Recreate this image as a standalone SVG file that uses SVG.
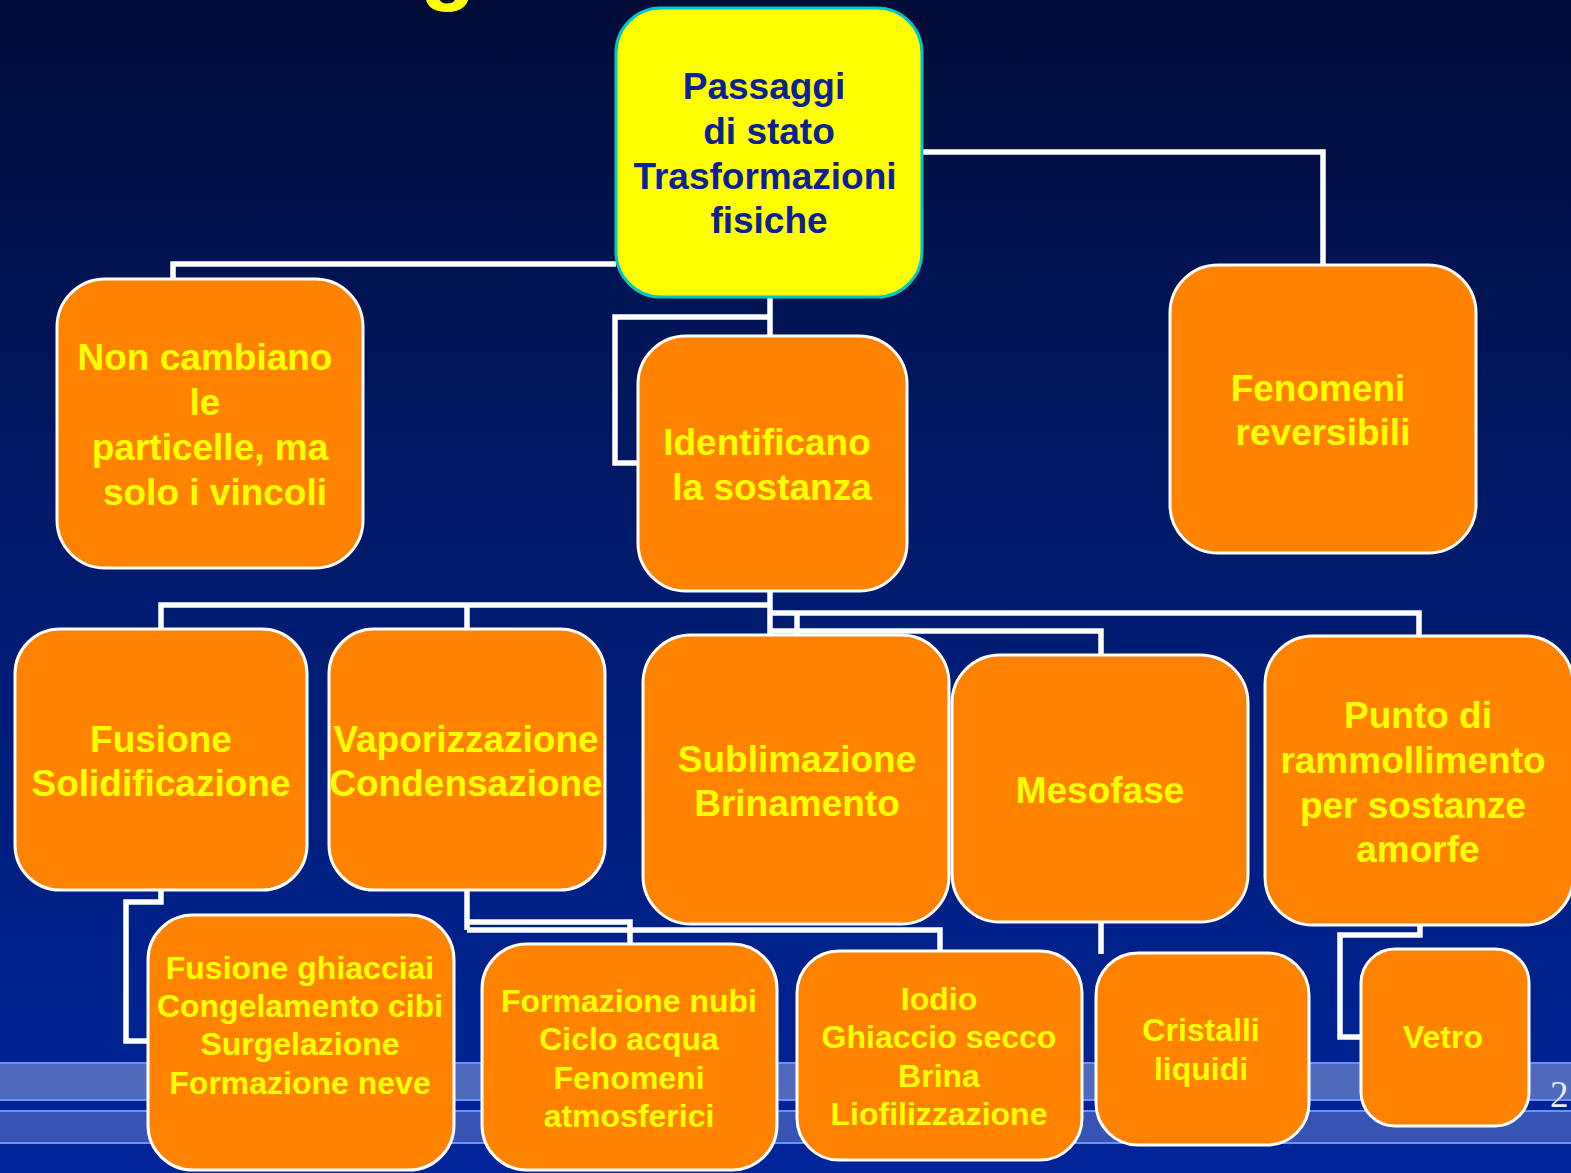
<svg xmlns="http://www.w3.org/2000/svg" width="1571" height="1173" viewBox="0 0 1571 1173">
<defs>
<linearGradient id="bg" x1="0" y1="0" x2="0" y2="1">
<stop offset="0" stop-color="#010c37"/>
<stop offset="0.45" stop-color="#001a6a"/>
<stop offset="1" stop-color="#00259a"/>
</linearGradient>
<style>
.n rect{fill:#ff8200;stroke:#ffffff;stroke-width:3}
.n text{font-family:"Liberation Sans",Arial,sans-serif;font-weight:bold;fill:#ffff00;text-anchor:middle}
.big text{font-size:37px}
.small text{font-size:32px}
#conn path{fill:none;stroke:#ffffff;stroke-width:5.5;stroke-linejoin:miter}
.stripe{fill:#4f69bd}
.stripe2{fill:#3654b3}
.sl{fill:#6d8eff}
</style>
</defs>
<rect x="0" y="0" width="1571" height="1173" fill="url(#bg)"/>
<text x="448" y="-7" font-family="Liberation Sans,Arial,sans-serif" font-weight="bold" font-size="92" fill="#ffff00" text-anchor="middle">g</text>
<g id="stripes">
<rect class="sl" x="0" y="1062" width="1571" height="2"/>
<rect class="stripe" x="0" y="1064" width="1571" height="35"/>
<rect class="sl" x="0" y="1099" width="1571" height="2"/>
<rect class="sl" x="0" y="1110" width="1571" height="2"/>
<rect class="stripe2" x="0" y="1112" width="1571" height="30"/>
<rect class="sl" x="0" y="1142" width="1571" height="2"/>
</g>
<text x="1550" y="1107" font-family="Liberation Serif,Times New Roman,serif" font-size="37" fill="#e6e8f5">2</text>
<g id="conn">
<path d="M616,264 H173 V280"/>
<path d="M922,152 H1323 V266"/>
<path d="M770,297 V337"/>
<path d="M770,317 H615 V463 H639"/>
<path d="M770,591 V636"/>
<path d="M770,605 H161 V630"/>
<path d="M467,605 V630"/>
<path d="M770,613 H1419 V637"/>
<path d="M797,613 V636"/>
<path d="M770,631 H1101 V656"/>
<path d="M161,890 V902 H126 V1041 H149"/>
<path d="M467,890 V930"/>
<path d="M467,922 H630 V945"/>
<path d="M467,930 H940 V952"/>
<path d="M1101,922 V954"/>
<path d="M1420,925 V935 H1340 V1037 H1362"/>
</g>
<g id="n-root" class="n big">
<rect x="616" y="8" width="306" height="289" rx="45" ry="45" style="fill:#ffff00;stroke:#00c8c8;stroke-width:3"/>
<text x="764" y="99" style="fill:#0b2195">Passaggi</text>
<text x="769" y="144" style="fill:#0b2195">di stato</text>
<text x="765" y="189" style="fill:#0b2195">Trasformazioni</text>
<text x="769" y="233" style="fill:#0b2195">fisiche</text>
</g>
<g id="n-noncambiano" class="n big">
<rect x="57" y="279" width="306" height="289" rx="48" ry="48"/>
<text x="205" y="370">Non cambiano</text>
<text x="205" y="415">le</text>
<text x="210" y="460">particelle, ma</text>
<text x="215" y="505">solo i vincoli</text>
</g>
<g id="n-fenomeni" class="n big">
<rect x="1170" y="265" width="306" height="288" rx="48" ry="48"/>
<text x="1318" y="401">Fenomeni</text>
<text x="1323" y="445">reversibili</text>
</g>
<g id="n-identificano" class="n big">
<rect x="638" y="336" width="269" height="255" rx="48" ry="48"/>
<text x="767" y="455">Identificano</text>
<text x="772" y="500">la sostanza</text>
</g>
<g id="n-fusione" class="n big">
<rect x="15" y="629" width="292" height="261" rx="45" ry="45"/>
<text x="161" y="752">Fusione</text>
<text x="161" y="796">Solidificazione</text>
</g>
<g id="n-vaporizzazione" class="n big">
<rect x="329" y="629" width="276" height="261" rx="45" ry="45"/>
<text x="466" y="752">Vaporizzazione</text>
<text x="466" y="796">Condensazione</text>
</g>
<g id="n-sublimazione" class="n big">
<rect x="643" y="635" width="306" height="289" rx="48" ry="48"/>
<text x="797" y="772">Sublimazione</text>
<text x="797" y="816">Brinamento</text>
</g>
<g id="n-mesofase" class="n big">
<rect x="952" y="655" width="296" height="267" rx="48" ry="48"/>
<text x="1100" y="803">Mesofase</text>
</g>
<g id="n-punto" class="n big">
<rect x="1265" y="636" width="308" height="289" rx="48" ry="48"/>
<text x="1418" y="728">Punto di</text>
<text x="1413" y="773">rammollimento</text>
<text x="1413" y="818">per sostanze</text>
<text x="1418" y="862">amorfe</text>
</g>
<g id="n-ghiacciai" class="n small">
<rect x="148" y="915" width="306" height="255" rx="45" ry="45"/>
<text x="300" y="979">Fusione ghiacciai</text>
<text x="300" y="1017">Congelamento cibi</text>
<text x="300" y="1055">Surgelazione</text>
<text x="300" y="1094">Formazione neve</text>
</g>
<g id="n-nubi" class="n small">
<rect x="482" y="944" width="295" height="226" rx="45" ry="45"/>
<text x="629" y="1012">Formazione nubi</text>
<text x="629" y="1050">Ciclo acqua</text>
<text x="629" y="1089">Fenomeni</text>
<text x="629" y="1127">atmosferici</text>
</g>
<g id="n-iodio" class="n small">
<rect x="797" y="951" width="285" height="209" rx="42" ry="42"/>
<text x="939" y="1010">Iodio</text>
<text x="939" y="1048">Ghiaccio secco</text>
<text x="939" y="1087">Brina</text>
<text x="939" y="1125">Liofilizzazione</text>
</g>
<g id="n-cristalli" class="n small">
<rect x="1096" y="953" width="213" height="192" rx="42" ry="42"/>
<text x="1201" y="1041">Cristalli</text>
<text x="1201" y="1080">liquidi</text>
</g>
<g id="n-vetro" class="n small">
<rect x="1361" y="949" width="168" height="177" rx="34" ry="34"/>
<text x="1443" y="1048">Vetro</text>
</g>
</svg>
